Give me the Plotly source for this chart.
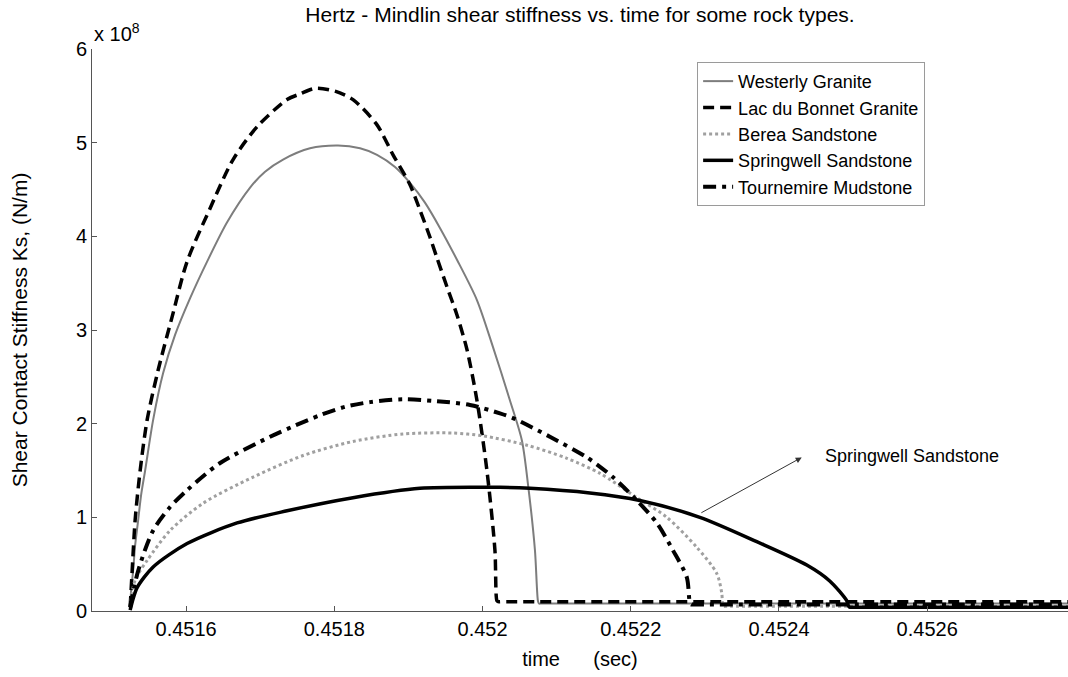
import plotly.graph_objects as go

SCALE = 1e8  # values below are in units of 1e8 N/m

# ---------------- data ----------------
westerly_t = [0.4515245, 0.4515258, 0.4515285, 0.4515312, 0.4515353, 0.4515393, 0.4515447,
              0.4515555, 0.4515690, 0.4515852, 0.4516054, 0.4516283, 0.4516553, 0.4516863,
              0.4517065, 0.4517308, 0.4517672, 0.4518050, 0.4518347, 0.4518576, 0.4518819,
              0.4519021, 0.4519223, 0.4519425, 0.4519655, 0.4519924, 0.4520140, 0.4520369,
              0.4520531, 0.4520612, 0.4520707, 0.4520747, 0.4520760, 0.4520800, 0.4527900]
westerly_v = [0.04, 0.22, 0.43, 0.70, 0.97, 1.24, 1.50,
              2.04, 2.54, 2.95, 3.34, 3.73, 4.15, 4.52,
              4.69, 4.82, 4.94, 4.97, 4.94, 4.87, 4.74,
              4.57, 4.36, 4.09, 3.75, 3.32, 2.82, 2.25,
              1.82, 1.36, 0.65, 0.11, 0.08, 0.08, 0.08]

lac_t = [0.4515245, 0.4515272, 0.4515312, 0.4515380, 0.4515474, 0.4515622, 0.4515811,
         0.4516013, 0.4516324, 0.4516634, 0.4516958, 0.4517362, 0.4517537, 0.4517740,
         0.4518009, 0.4518252, 0.4518576, 0.4518792, 0.4519021, 0.4519156, 0.4519291,
         0.4519385, 0.4519520, 0.4519655, 0.4519790, 0.4519924, 0.4520059, 0.4520167,
         0.4520194, 0.4520210, 0.4520250, 0.4527900]
lac_v = [0.04, 0.43, 0.97, 1.50, 2.04, 2.57, 3.14,
         3.73, 4.30, 4.82, 5.17, 5.46, 5.52, 5.58,
         5.55, 5.46, 5.19, 4.87, 4.55, 4.28, 3.99,
         3.77, 3.46, 3.16, 2.79, 2.25, 1.50, 0.65,
         0.11, 0.10, 0.10, 0.10]

berea_t = [0.4515245, 0.4515312, 0.4515474, 0.4515784, 0.4516229, 0.4516904, 0.4517578,
           0.4518252, 0.4518926, 0.4519601, 0.4520005, 0.4520599, 0.4521138, 0.4521583,
           0.4522082, 0.4522487, 0.4522891, 0.4523161, 0.4523228, 0.4523242, 0.4523260,
           0.4523300, 0.4527900]
berea_v = [0.04, 0.33, 0.54, 0.86, 1.15, 1.43, 1.66,
           1.81, 1.89, 1.90, 1.87, 1.77, 1.63, 1.47,
           1.21, 1.00, 0.68, 0.40, 0.19, 0.06, 0.05,
           0.05, 0.05]

springwell_t = [0.4515245, 0.4515285, 0.4515339, 0.4515555, 0.4516013, 0.4516688, 0.4517362,
                0.4518252, 0.4519156, 0.4520235, 0.4520639, 0.4521448, 0.4522123, 0.4522932,
                0.4523700, 0.4524375, 0.4524685, 0.4524914, 0.4524941, 0.4524960, 0.4525000,
                0.4527900]
springwell_v = [0.01, 0.13, 0.25, 0.47, 0.72, 0.94, 1.07,
                1.21, 1.31, 1.32, 1.31, 1.26, 1.18, 1.00,
                0.74, 0.49, 0.32, 0.11, 0.05, 0.04, 0.04,
                0.04]

tournemire_t = [0.4515245, 0.4515353, 0.4515555, 0.4515784, 0.4516013, 0.4516459, 0.4517133,
                0.4517470, 0.4517807, 0.4518144, 0.4518481, 0.4518926, 0.4519385, 0.4519830,
                0.4520235, 0.4520410, 0.4520909, 0.4521408, 0.4521758, 0.4522082, 0.4522352,
                0.4522568, 0.4522756, 0.4522797, 0.4522815, 0.4522850, 0.4527900]
tournemire_v = [0.04, 0.43, 0.86, 1.11, 1.29, 1.58, 1.86,
                1.98, 2.09, 2.18, 2.23, 2.26, 2.24, 2.20,
                2.11, 2.06, 1.86, 1.64, 1.43, 1.18, 0.94,
                0.65, 0.36, 0.09, 0.07, 0.07, 0.07]

x_tick_vals = [0.4516, 0.4518, 0.4520, 0.4522, 0.4524, 0.4526]
x_tick_text = ["0.4516", "0.4518", "0.452", "0.4522", "0.4524", "0.4526"]
y_tick_vals = [0, 1, 2, 3, 4, 5, 6]
y_tick_text = ["0", "1", "2", "3", "4", "5", "6"]

# annotation arrow (tail on Springwell curve, head toward label)
arrow_tail = (0.4522932, 1.04)
arrow_head = (0.4524307, 1.64)
label_pos = (0.4524591, 1.66)

FONT = "Liberation Sans, Arial, sans-serif"

fig = go.Figure()


def sc(v):
    return [x * SCALE for x in v]


fig.add_trace(go.Scatter(x=westerly_t, y=sc(westerly_v), mode="lines", name="Westerly Granite",
                         line=dict(color="#7d7d7d", width=2, shape="spline", smoothing=0.8)))
fig.add_trace(go.Scatter(x=lac_t, y=sc(lac_v), mode="lines", name="Lac du Bonnet Granite",
                         line=dict(color="black", width=3.5, dash="11px,6px", shape="spline", smoothing=0.8)))
fig.add_trace(go.Scatter(x=berea_t, y=sc(berea_v), mode="lines", name="Berea Sandstone",
                         line=dict(color="#a0a0a0", width=3, dash="3px,3px", shape="spline", smoothing=0.8)))
fig.add_trace(go.Scatter(x=springwell_t, y=sc(springwell_v), mode="lines", name="Springwell Sandstone",
                         line=dict(color="black", width=3.5, shape="spline", smoothing=0.8)))
fig.add_trace(go.Scatter(x=tournemire_t, y=sc(tournemire_v), mode="lines", name="Tournemire Mudstone",
                         line=dict(color="black", width=4, dash="13px,6px,4px,6px", shape="spline", smoothing=0.8)))

fig.update_layout(
    width=1068, height=677,
    margin=dict(l=92, r=0, t=49, b=66),
    paper_bgcolor="white", plot_bgcolor="white",
    font=dict(family=FONT, size=20, color="black"),
    title=dict(text="Hertz - Mindlin shear stiffness vs. time for some rock types.",
               x=0.5, xref="paper", xanchor="center", y=0.978, yanchor="middle",
               font=dict(family=FONT, size=21)),
    showlegend=True,
    legend=dict(x=0.62, y=0.977, xanchor="left", yanchor="top",
                bgcolor="white", bordercolor="#9a9a9a", borderwidth=1,
                font=dict(family=FONT, size=18), tracegroupgap=0,
                itemwidth=30),
    xaxis=dict(range=[0.451473, 0.45279], tickvals=x_tick_vals, ticktext=x_tick_text,
               showgrid=False, zeroline=False, showline=True, linecolor="#555", linewidth=1,
               ticks="inside", ticklen=5, tickcolor="#555", mirror=False,
               tickfont=dict(family=FONT, size=20),
               title=dict(text="time\u00a0\u00a0\u00a0\u00a0\u00a0\u00a0(sec)", standoff=12,
                          font=dict(family=FONT, size=20))),
    yaxis=dict(range=[0, 6 * SCALE], tickvals=[v * SCALE for v in y_tick_vals], ticktext=y_tick_text,
               showgrid=False, zeroline=False, showline=True, linecolor="#555", linewidth=1,
               ticks="inside", ticklen=5, tickcolor="#555",
               tickfont=dict(family=FONT, size=20),
               title=dict(text="Shear Contact Stiffness Ks, (N/m)", standoff=42,
                          font=dict(family=FONT, size=21))),
)

fig.add_annotation(xref="paper", yref="paper", x=0, y=1, xanchor="left", yanchor="bottom",
                   text="x 10<sup>8</sup>", showarrow=False, yshift=2,
                   font=dict(family=FONT, size=20))

fig.add_annotation(x=arrow_head[0], y=arrow_head[1] * SCALE, ax=arrow_tail[0], ay=arrow_tail[1] * SCALE,
                   xref="x", yref="y", axref="x", ayref="y", text="", showarrow=True,
                   arrowhead=2, arrowsize=1.2, arrowwidth=1, arrowcolor="#333")
fig.add_annotation(x=label_pos[0], y=label_pos[1] * SCALE, xref="x", yref="y",
                   text="Springwell Sandstone", showarrow=False, xanchor="left", yanchor="middle",
                   font=dict(family=FONT, size=18))

fig.write_html("out.html")
